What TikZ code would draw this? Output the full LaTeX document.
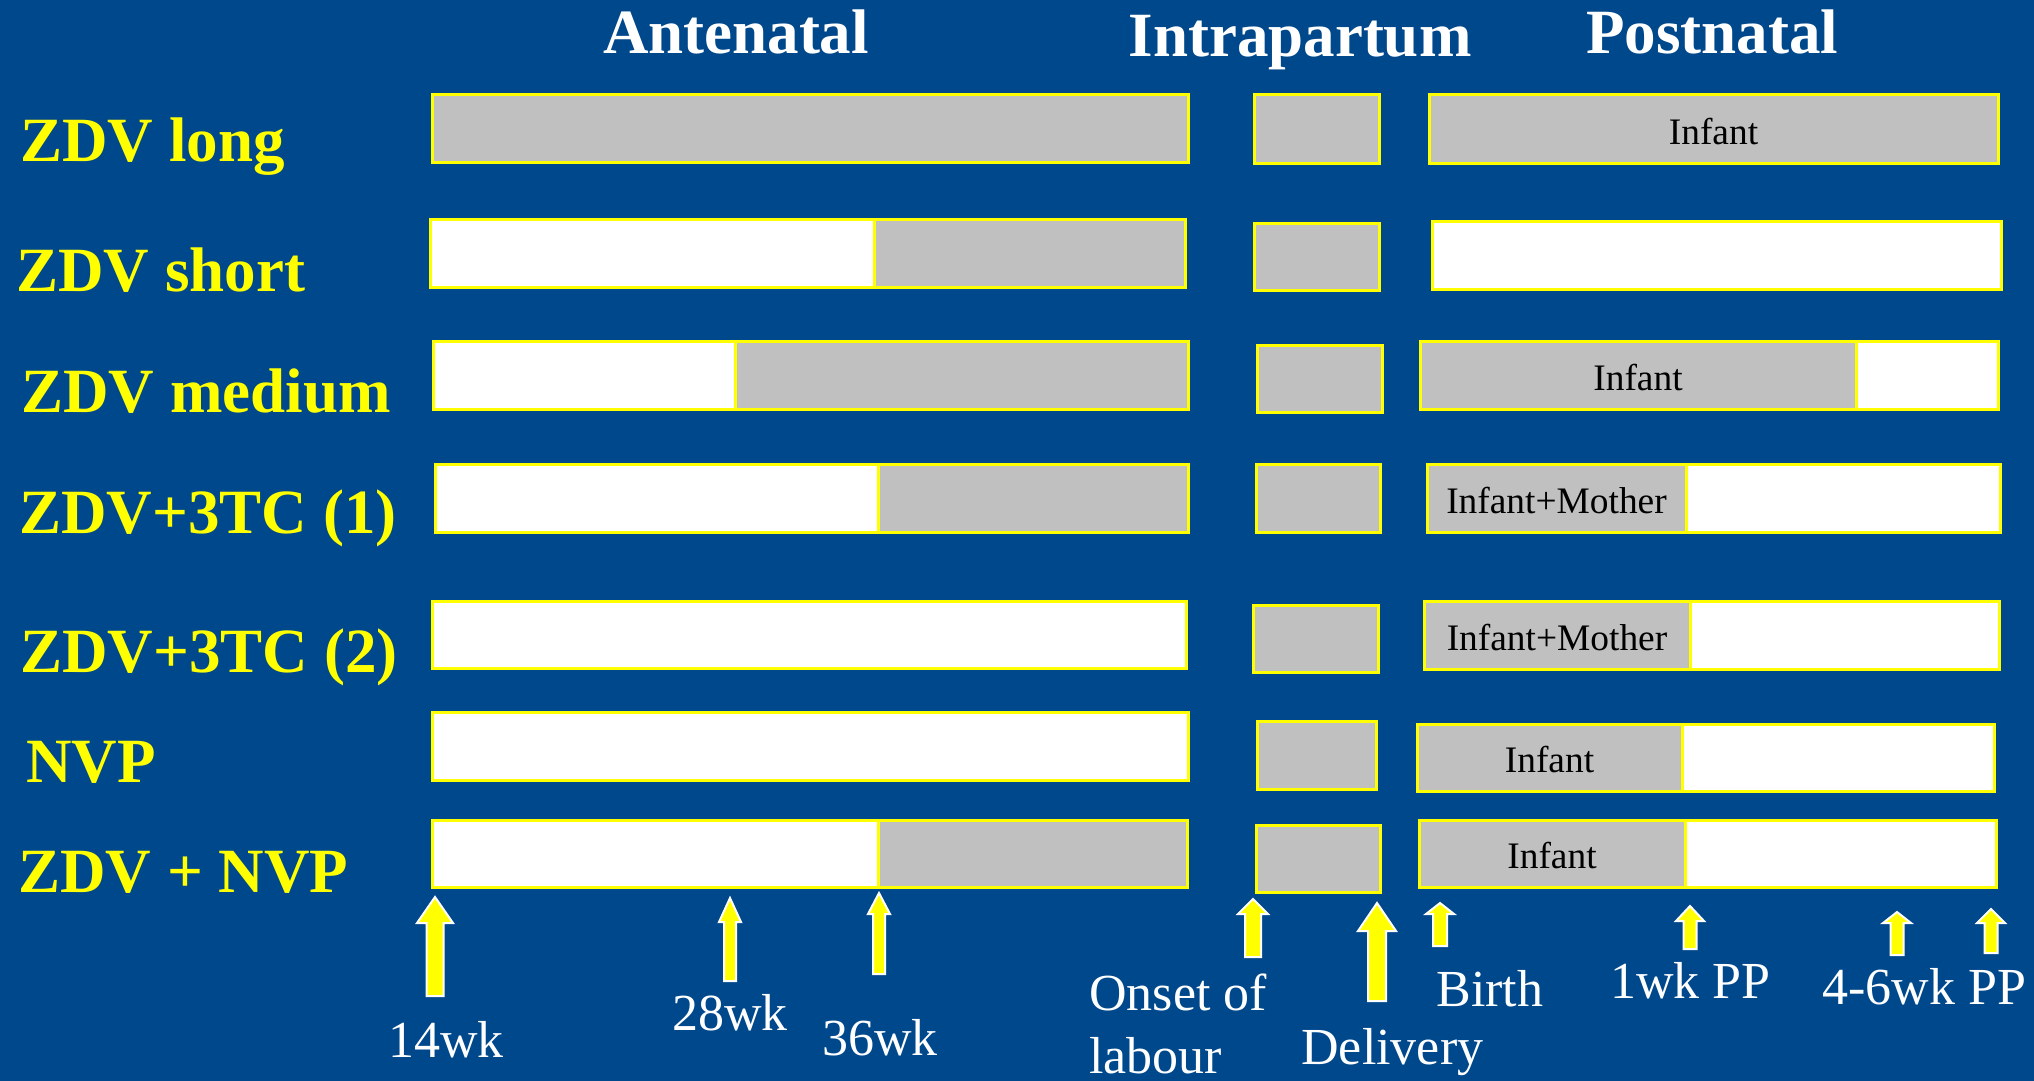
\documentclass[tikz,border=0pt]{standalone}
\usepackage{fontspec}
\setmainfont{Liberation Serif}
\definecolor{bgblue}{RGB}{0,72,140}
\definecolor{bargray}{RGB}{192,192,192}
\definecolor{ylw}{RGB}{255,255,0}
\newcommand\blkarrow[7]{% name, x, tip y, head base y, bottom y, half head, half shaft
  \filldraw[uparr] (#2,#3) coordinate (#1)
    -- ({#2+#6},#4) -- ({#2+#7},#4) -- ({#2+#7},#5) -- ({#2-#7},#5)
    -- ({#2-#7},#4) -- ({#2-#6},#4) -- cycle;}
\begin{document}
\begin{tikzpicture}[x=0.5pt,y=-0.5pt,
  segbase/.style={draw=ylw,line width=1.5pt},
  seggray/.style={segbase,fill=bargray},
  segwhite/.style={segbase,fill=white},
  boxtext/.style={text=black,font=\fontsize{18.7}{22}\selectfont,inner sep=0pt,yshift=-1.2pt},
  heading/.style={text=white,font=\fontsize{31.5}{36}\selectfont\bfseries,anchor=base,inner sep=0pt},
  rowlabel/.style={text=ylw,font=\fontsize{31.5}{36}\selectfont\bfseries,anchor=base west,inner sep=0pt},
  ticklabel/.style={text=white,font=\fontsize{26}{30}\selectfont,anchor=base west,inner sep=0pt},
  uparr/.style={fill=ylw,draw=white,line width=1pt,line join=miter}]
\fill[bgblue] (0,0) rectangle (2034,1081);
\useasboundingbox (0,0) rectangle (2034,1081);

% headings
\node[heading] (hA) at (736,54) {Antenatal};
\node[heading] (hI) at (1300,57) {Intrapartum};
\node[heading] (hP) at (1712,54) {Postnatal};

% row labels
\node[rowlabel] (r1) at (20,162) {ZDV long};
\node[rowlabel] (r2) at (16,291) {ZDV short};
\node[rowlabel] (r3) at (21,412) {ZDV medium};
\node[rowlabel] (r4) at (19,533) {ZDV+3TC (1)};
\node[rowlabel] (r5) at (20,672) {ZDV+3TC (2)};
\node[rowlabel] (r6) at (26,782) {NVP};
\node[rowlabel] (r7) at (18,892) {ZDV + NVP};

% row 1
\path[seggray] (432,95) rectangle (1188,162);
\path[seggray] (1254,95) rectangle (1379,163);
\path[seggray] (1429,95) rectangle (1998,163) node[pos=.5,boxtext] (p1) {Infant};
% row 2
\path[segwhite] (430,219) rectangle (874,287);
\path[seggray] (874,219) rectangle (1185,287);
\path[seggray] (1254,223) rectangle (1379,290);
\path[segwhite] (1432,221) rectangle (2001,289);
% row 3
\path[segwhite] (433,341) rectangle (735,409);
\path[seggray] (735,341) rectangle (1188,409);
\path[seggray] (1257,345) rectangle (1382,412);
\path[segwhite] (1856,341) rectangle (1998,409);
\path[seggray] (1420,341) rectangle (1856,409) node[pos=.5,boxtext] (p3) {Infant};
% row 4
\path[segwhite] (435,464) rectangle (878,532);
\path[seggray] (878,464) rectangle (1188,532);
\path[seggray] (1256,464) rectangle (1380,532);
\path[segwhite] (1686,464) rectangle (2000,532);
\path[seggray] (1427,464) rectangle (1686,532) node[pos=.5,boxtext] (p4) {Infant+Mother};
% row 5
\path[segwhite] (432,601) rectangle (1186,668);
\path[seggray] (1253,605) rectangle (1378,672);
\path[segwhite] (1690,601) rectangle (1999,669);
\path[seggray] (1424,601) rectangle (1690,669) node[pos=.5,boxtext] (p5) {Infant+Mother};
% row 6
\path[segwhite] (432,712) rectangle (1188,780);
\path[seggray] (1257,721) rectangle (1376,789);
\path[segwhite] (1682,724) rectangle (1994,791);
\path[seggray] (1417,724) rectangle (1682,791) node[pos=.5,boxtext] (p6) {Infant};
% row 7
\path[segwhite] (432,820) rectangle (878,887);
\path[seggray] (878,820) rectangle (1187,887);
\path[seggray] (1256,825) rectangle (1380,892);
\path[segwhite] (1685,820) rectangle (1996,887);
\path[seggray] (1419,820) rectangle (1685,887) node[pos=.5,boxtext] (p7) {Infant};

% time arrows
\blkarrow{a14}{435}{897}{923}{996}{18}{8.5}
\blkarrow{a28}{730}{898}{922}{981}{11}{6}
\blkarrow{a36}{879}{893}{914}{974}{11}{6}
\blkarrow{aon}{1253}{899}{914}{957}{15}{8}
\blkarrow{adel}{1377}{903}{931}{1001}{19}{9}
\blkarrow{abir}{1440}{903}{914}{946}{14}{7}
\blkarrow{a1wk}{1690}{906}{921}{949}{14}{6.5}
\blkarrow{a46a}{1897}{912}{923}{955}{14}{6.5}
\blkarrow{a46b}{1991}{909}{923}{953}{14}{6.5}

% time labels
\node[ticklabel] (l14) at (388,1057) {14wk};
\node[ticklabel] (l28) at (672,1030) {28wk};
\node[ticklabel] (l36) at (822,1055) {36wk};
\node[ticklabel] (lon1) at (1089,1010) {Onset of};
\node[ticklabel] (lon2) at (1089,1073) {labour};
\node[ticklabel] (ldel) at (1301,1064) {Delivery};
\node[ticklabel] (lbir) at (1436,1006) {Birth};
\node[ticklabel] (l1wk) at (1610,998) {1wk PP};
\node[ticklabel] (l46) at (1822,1004) {4-6wk PP};
\end{tikzpicture}
\end{document}
